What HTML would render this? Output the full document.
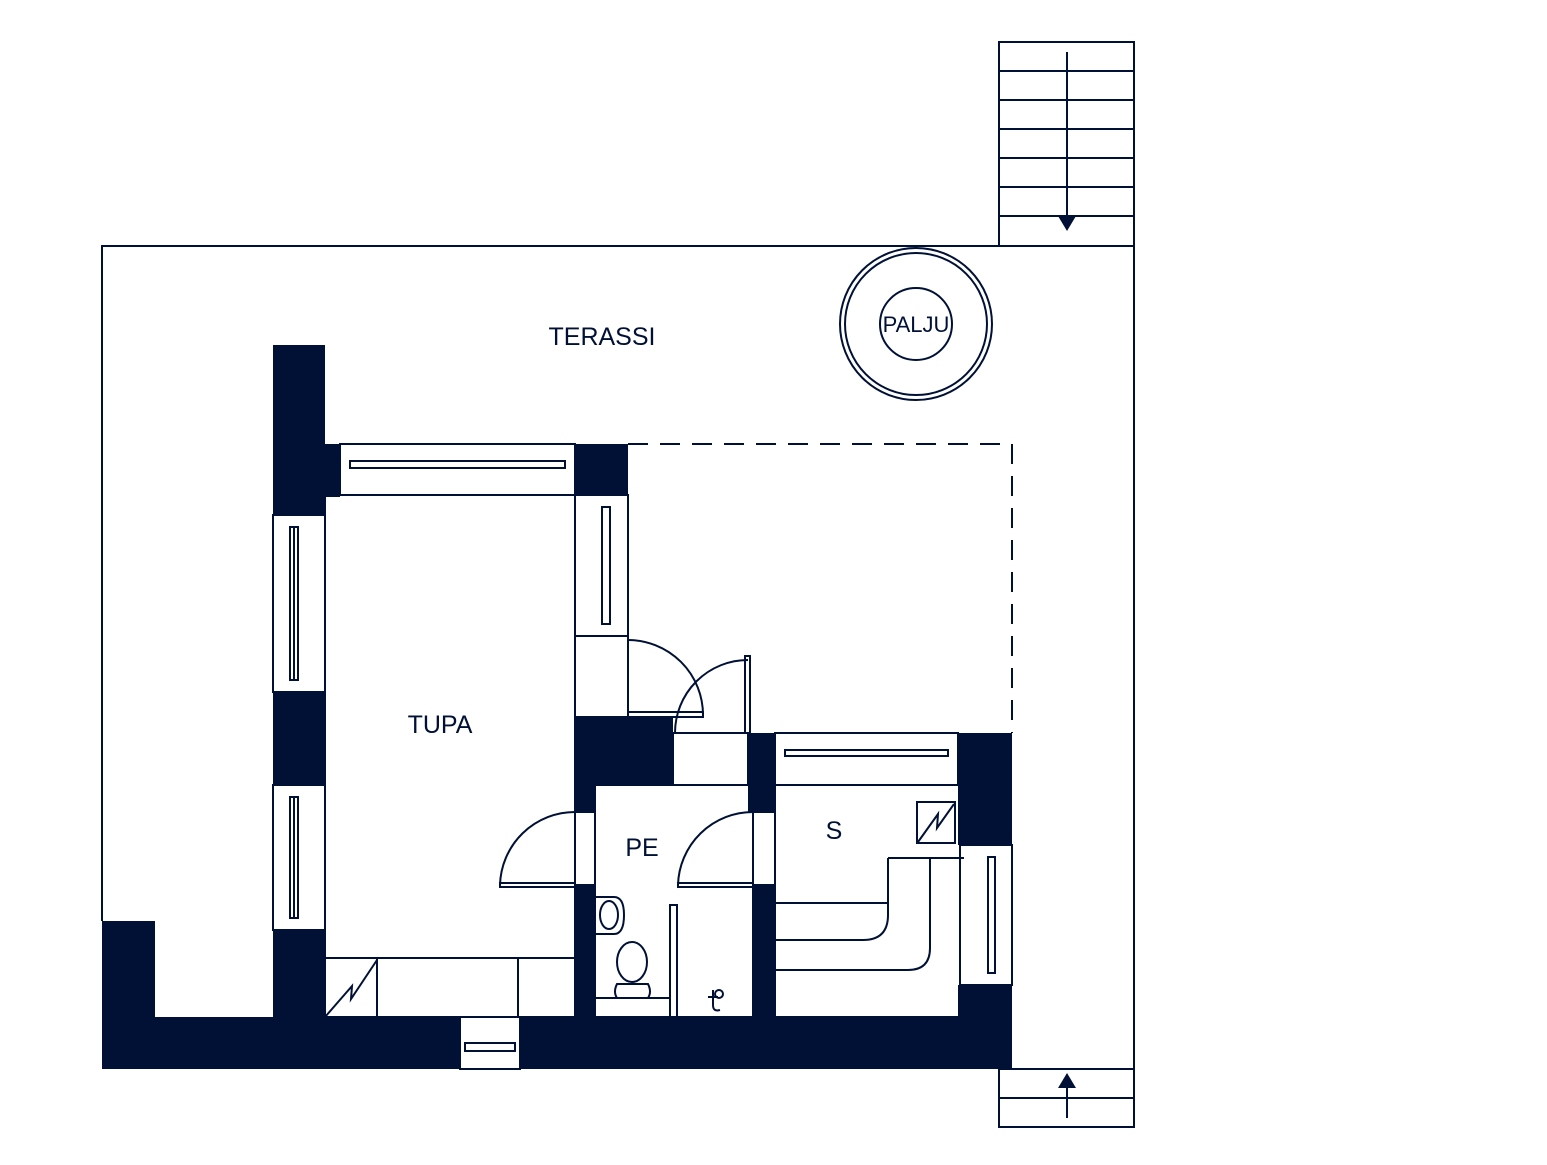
<!DOCTYPE html>
<html><head><style>body{margin:0;background:#fff}svg{display:block}</style></head><body>
<svg width="1547" height="1165" viewBox="0 0 1547 1165" xmlns="http://www.w3.org/2000/svg" font-family="Liberation Sans, sans-serif">
<g fill="none" stroke="#011135" stroke-width="2">
<polyline points="102,921 102,246 1134,246"/>
<line x1="1134" y1="42" x2="1134" y2="1127"/>
<rect x="999" y="42" width="135" height="204"/>
<path d="M999 71H1134M999 100H1134M999 129H1134M999 158H1134M999 187H1134M999 216H1134"/>
<line x1="1067" y1="52" x2="1067" y2="220"/>
<rect x="999" y="1069" width="135" height="58"/>
<line x1="999" y1="1098" x2="1134" y2="1098"/>
<line x1="1067" y1="1118" x2="1067" y2="1086"/>
<circle cx="916" cy="324" r="76"/><circle cx="916" cy="324" r="71"/><circle cx="916" cy="324" r="36"/>
<path d="M628 444H1012V733" stroke-dasharray="20,12"/>
</g>
<g fill="#011135">
<polygon points="1058,216 1076,216 1067,231"/>
<polygon points="1058,1088 1076,1088 1067,1073"/>
<rect x="273" y="345" width="52" height="170"/>
<rect x="325" y="444" width="15" height="53"/>
<rect x="273" y="692" width="52" height="93"/>
<rect x="273" y="930" width="52" height="90"/>
<rect x="102" y="921" width="53" height="148"/>
<rect x="102" y="1017" width="358" height="52"/>
<rect x="520" y="1017" width="492" height="52"/>
<rect x="575" y="444" width="53" height="51"/>
<rect x="575" y="717" width="98" height="68"/>
<rect x="575" y="785" width="20" height="27"/>
<rect x="575" y="885" width="20" height="132"/>
<rect x="748" y="733" width="27" height="79"/>
<rect x="753" y="885" width="22" height="132"/>
<rect x="958" y="733" width="54" height="112"/>
<rect x="958" y="985" width="54" height="34"/>
</g>
<g fill="none" stroke="#011135" stroke-width="2">
<rect x="273" y="515" width="52" height="177"/><rect x="290" y="527" width="8" height="153"/><line x1="294" y1="527" x2="294" y2="680"/>
<rect x="273" y="785" width="52" height="145"/><rect x="290" y="797" width="8" height="121"/><line x1="294" y1="797" x2="294" y2="918"/>
<rect x="340" y="444" width="235" height="51"/><rect x="350" y="461" width="215" height="7"/>
<rect x="575" y="495" width="53" height="141"/><rect x="602" y="507" width="8" height="117"/>
<rect x="775" y="733" width="183" height="52"/><rect x="785" y="750" width="163" height="6"/>
<rect x="960" y="845" width="52" height="140"/><rect x="988" y="857" width="7" height="116"/>
<rect x="460" y="1017" width="60" height="52"/><rect x="465" y="1043" width="50" height="8"/>
<rect x="575" y="636" width="53" height="81"/>
<rect x="673" y="733" width="75" height="52"/>
<rect x="575" y="812" width="20" height="73"/>
<rect x="753" y="812" width="22" height="73"/>
<rect x="628" y="712" width="75" height="5"/><path d="M628 640A75 75 0 0 1 703 715"/>
<rect x="745" y="656" width="5" height="77"/><path d="M675 733A73 73 0 0 1 748 660"/>
<rect x="500" y="883" width="75" height="4"/><path d="M500 885A75 75 0 0 1 575 812"/>
<rect x="678" y="883" width="75" height="4"/><path d="M678 885A75 75 0 0 1 753 812"/>
<rect x="325" y="495" width="250" height="522"/>
<line x1="325" y1="958" x2="575" y2="958"/><line x1="377" y1="958" x2="377" y2="1017"/><line x1="518" y1="958" x2="518" y2="1017"/>
<polyline points="325,1017 352,986 351,999 377,960"/>
<rect x="595" y="785" width="158" height="232"/>
<rect x="775" y="785" width="185" height="232"/>
<rect x="670" y="905" width="7" height="112"/>
<line x1="595" y1="998" x2="670" y2="998"/>
<path d="M595 897H614Q624 897 624 915Q624 934 614 934H595"/><ellipse cx="609" cy="915" rx="9" ry="14"/>
<ellipse cx="632" cy="962" rx="15" ry="20"/><path d="M617 984H648Q652 992 648 998H617Q613 992 617 984Z"/>
<path d="M708 997H718M713 990V1005Q713 1012 720 1010"/><circle cx="719" cy="994" r="4"/>
<rect x="917" y="802" width="38" height="41"/><polyline points="918,842 938,814 937,828 954,804"/>
<path d="M888 858H964M775 903H888M888 858V915Q888 940 863 940H775"/>
<path d="M930 858V948Q930 970 908 970H775"/>
</g>
<g fill="#011135" text-anchor="middle">
<text x="602" y="345" font-size="25">TERASSI</text>
<text x="916" y="332" font-size="22">PALJU</text>
<text x="440" y="733" font-size="25">TUPA</text>
<text x="642" y="856" font-size="25">PE</text>
<text x="834" y="839" font-size="25">S</text>
</g>
</svg>
</body></html>
